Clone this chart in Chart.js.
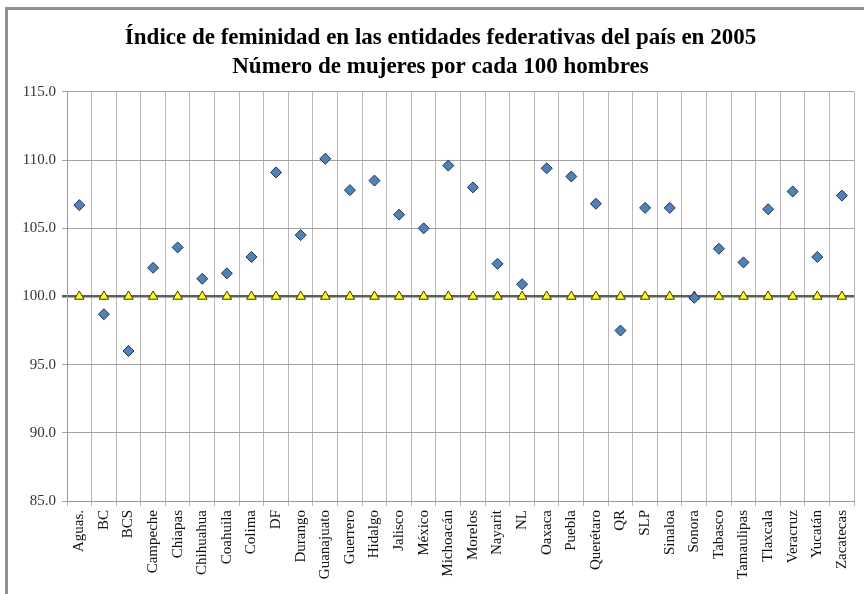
<!DOCTYPE html>
<html>
<head>
<meta charset="utf-8">
<title>Índice de feminidad 2005</title>
<script src="https://cdn.jsdelivr.net/npm/chart.js@4.4.1/dist/chart.umd.min.js"></script>
<style>
  html, body { margin: 0; padding: 0; background: #fff; overflow: hidden; }
  #frame { position: absolute; left: 5px; top: 7px; width: 900px; height: 700px; border: 3px solid #8f8f8f; }
  #wrap { position: absolute; left: 0; top: 0; width: 864px; height: 594px; }
</style>
</head>
<body>
<div id="frame"></div>
<div id="wrap"><canvas id="myChart" width="864" height="594"></canvas></div>
<script>
// entidades federativas
var estados = ['Aguas.', 'BC', 'BCS', 'Campeche', 'Chiapas', 'Chihuahua', 'Coahuila', 'Colima',
  'DF', 'Durango', 'Guanajuato', 'Guerrero', 'Hidalgo', 'Jalisco', 'México', 'Michoacán',
  'Morelos', 'Nayarit', 'NL', 'Oaxaca', 'Puebla', 'Querétaro', 'QR', 'SLP', 'Sinaloa',
  'Sonora', 'Tabasco', 'Tamaulipas', 'Tlaxcala', 'Veracruz', 'Yucatán', 'Zacatecas'];

// mujeres por cada 100 hombres
var indice = [106.7, 98.7, 96.0, 102.1, 103.6, 101.3, 101.7, 102.9,
  109.1, 104.5, 110.1, 107.8, 108.5, 106.0, 105.0, 109.6,
  108.0, 102.4, 100.9, 109.4, 108.8, 106.8, 97.5, 106.5, 106.5,
  99.9, 103.5, 102.5, 106.4, 107.7, 102.9, 107.4];

// linea de paridad
var paridad = [100, 100, 100, 100, 100, 100, 100, 100,
  100, 100, 100, 100, 100, 100, 100, 100,
  100, 100, 100, 100, 100, 100, 100, 100, 100,
  100, 100, 100, 100, 100, 100, 100];

var yMin = 85, yMax = 115, yStep = 5;

var serif = '"Liberation Serif", "Times New Roman", serif';

var myChart = new Chart(document.getElementById('myChart'), {
  type: 'line',
  data: {
    labels: estados,
    datasets: [{
      data: indice,
      showLine: false,
      pointStyle: 'rectRot',
      pointRadius: 5.5,
      pointHoverRadius: 5.5,
      pointBackgroundColor: '#4f81bd',
      pointBorderColor: '#1d3550',
      pointBorderWidth: 1
    }, {
      data: paridad,
      showLine: false,
      pointStyle: 'triangle',
      pointRadius: 5.5,
      pointHoverRadius: 5.5,
      pointBackgroundColor: '#ffff00',
      pointBorderColor: '#3a3a00',
      pointBorderWidth: 1
    }]
  },
  options: {
    responsive: false,
    animation: false,
    layout: { padding: { left: 22, right: 5, top: 0, bottom: 0 } },
    plugins: {
      legend: { display: false },
      tooltip: { enabled: false },
      title: {
        display: true,
        text: ['Índice de feminidad en las entidades federativas del país en 2005',
               'Número de mujeres por cada 100 hombres'],
        color: '#000',
        font: { family: serif, size: 23, weight: 'bold', lineHeight: 1.26 },
        padding: { top: 24, bottom: 10 }
      }
    },
    scales: {
      x: {
        offset: true,
        grid: { offset: true, color: '#b8b8b8', lineWidth: 1, tickLength: 5 },
        border: { color: '#9a9a9a' },
        ticks: {
          autoSkip: false,
          minRotation: 90,
          maxRotation: 90,
          padding: 4,
          color: '#111',
          font: { family: serif, size: 15 }
        },
        afterFit: function(scale) { scale.height = 93; }
      },
      y: {
        min: yMin,
        max: yMax,
        grid: {
          color: function(ctx) { return ctx.tick && ctx.tick.value === 100 ? '#5e5e5e' : '#a4a4a4'; },
          lineWidth: function(ctx) { return ctx.tick && ctx.tick.value === 100 ? 2.5 : 1; },
          tickLength: 5
        },
        border: { color: '#9a9a9a' },
        ticks: {
          stepSize: yStep,
          padding: 6,
          color: '#333',
          font: { family: serif, size: 15 },
          callback: function(v) { return v.toFixed(1); }
        },
        afterFit: function(scale) { scale.width = 45; }
      }
    }
  }
});
</script>
</body>
</html>
